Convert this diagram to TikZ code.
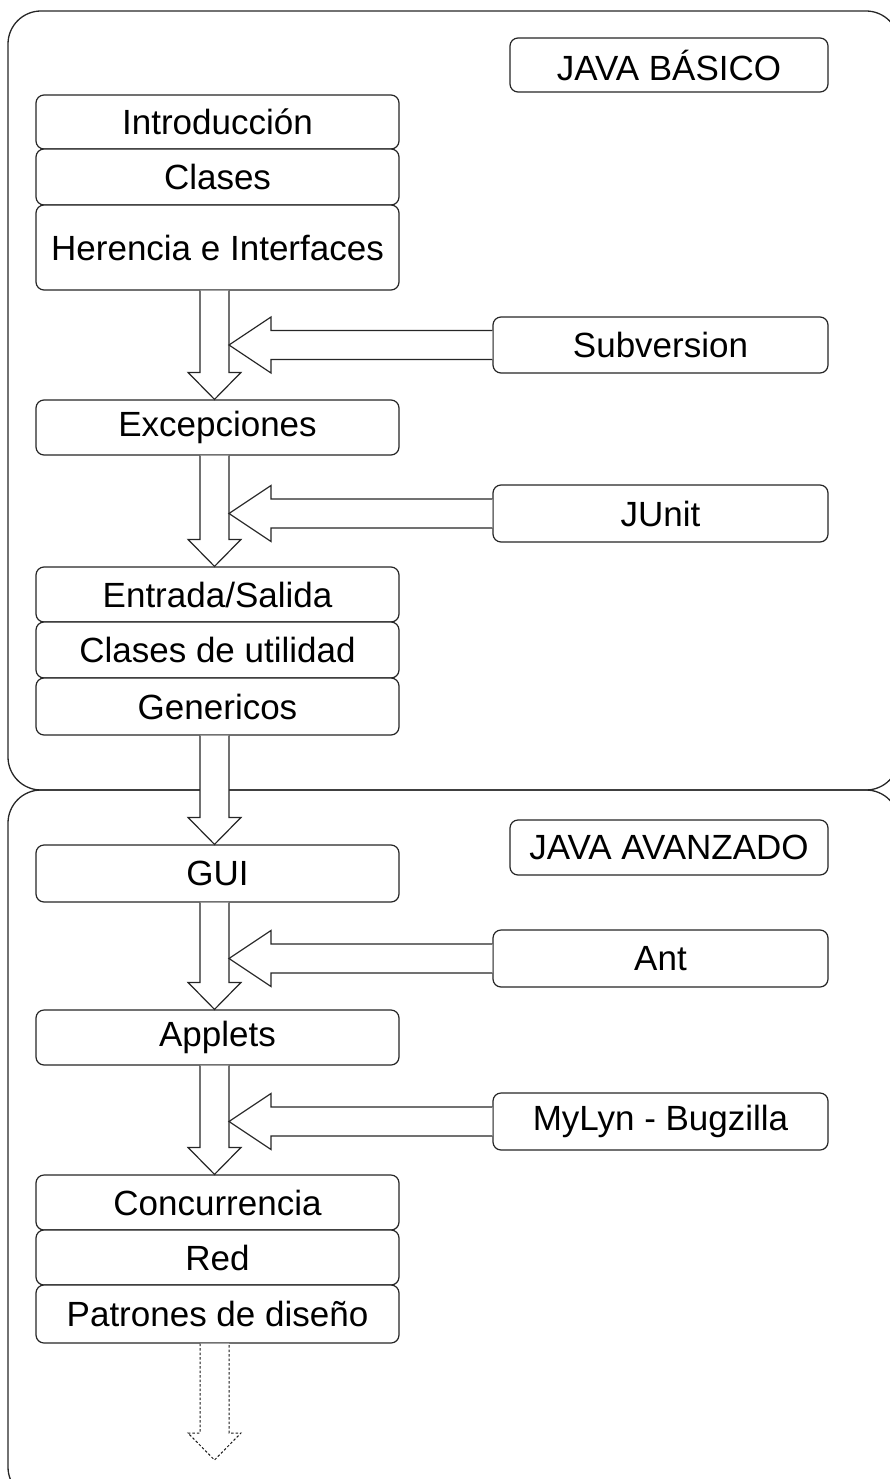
\documentclass[tikz,border=0pt]{standalone}
\usepackage{fontspec}
\setmainfont{Liberation Sans}
\usetikzlibrary{calc}
\tikzset{
  box/.style={draw=black!85, line width=1.2pt, rounded corners=8pt, fill=white,
    inner sep=0pt, font=\fontsize{35}{40}\selectfont},
  lbox/.style={box, minimum width=363pt},
  rbox/.style={box, minimum width=335pt},
  tbox/.style={box, minimum width=318pt},
  container/.style={draw=black!85, line width=1.3pt, rounded corners=33pt},
  blk/.style={draw=black!85, line width=1.2pt, fill=white, line join=miter},
  blkdot/.style={draw=black!90, line width=1pt, dash pattern=on 2.5pt off 2pt, fill=white},
}
\newcommand{\varr}[3][blk]{%
  \draw[#1] let \p1=(#2.south), \p2=(#3.north) in
    (200,\y1) -- (200,\y2+27) -- (188,\y2+27) -- (214.5,\y2) -- (241,\y2+27) -- (229,\y2+27) -- (229,\y1);}
\newcommand{\harr}[2]{%
  \draw[blk] let \p1=(#1.west), \p2=(#2) in
    (\x1,\y1+14.5) -- (\x2+42,\y1+14.5) -- (\x2+42,\y1+28) -- (\x2,\y1) -- (\x2+42,\y1-28) -- (\x2+42,\y1-14.5) -- (\x1,\y1-14.5);}
\begin{document}
\begin{tikzpicture}[x=1pt,y=1pt]
\useasboundingbox (0,0) rectangle (889,-1479);
% containers
\draw[container] (8,-790) rectangle (899,-1500);
\draw[container] (8,-11) rectangle (899,-790);
% nodes
\node[tbox, minimum height=54pt] (basico) at (669,-65) {JAVA BÁSICO};
\node[lbox, minimum height=54pt] (intro) at (217.5,-122) {Introducción};
\node[lbox, minimum height=56pt] (clases) at (217.5,-177) {Clases};
\node[lbox, minimum height=85pt] (herencia) at (217.5,-247.5) {Herencia e Interfaces};
\node[rbox, minimum height=56pt] (svn) at (660.5,-345) {Subversion};
\node[lbox, minimum height=55pt] (excep) at (217.5,-427.5) {Excepciones};
\node[rbox, minimum height=57pt] (junit) at (660.5,-513.5) {JUnit};
\node[lbox, minimum height=55pt] (entrada) at (217.5,-594.5) {Entrada/Salida};
\node[lbox, minimum height=56pt] (util) at (217.5,-650) {Clases de utilidad};
\node[lbox, minimum height=57pt] (gener) at (217.5,-706.5) {Genericos};
\node[tbox, minimum height=55pt] (avanzado) at (669,-847.5) {JAVA AVANZADO};
\node[lbox, minimum height=57pt] (gui) at (217.5,-873.5) {GUI};
\node[rbox, minimum height=57pt] (ant) at (660.5,-958.5) {Ant};
\node[lbox, minimum height=55pt] (applets) at (217.5,-1037.5) {Applets};
\node[rbox, minimum height=57pt] (mylyn) at (660.5,-1121.5) {MyLyn - Bugzilla};
\node[lbox, minimum height=55pt] (conc) at (217.5,-1202.5) {Concurrencia};
\node[lbox, minimum height=55pt] (red) at (217.5,-1257.5) {Red};
\node[lbox, minimum height=58pt] (patrones) at (217.5,-1314) {Patrones de diseño};
\coordinate (colR) at (229,0);
\coordinate (next) at (214.5,-1460);
% block arrows
\varr{herencia}{excep}
\varr{excep}{entrada}
\varr{gener}{gui}
\varr{gui}{applets}
\varr{applets}{conc}
\varr[blkdot]{patrones}{next}
\harr{svn}{colR}
\harr{junit}{colR}
\harr{ant}{colR}
\harr{mylyn}{colR}
\end{tikzpicture}
\end{document}
